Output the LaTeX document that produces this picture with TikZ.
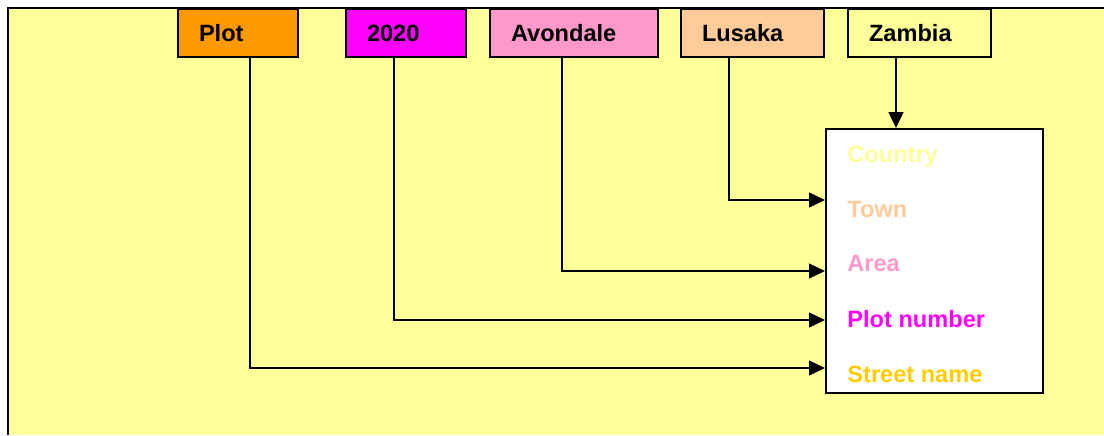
\documentclass[tikz,border=0pt]{standalone}
\usepackage{fontspec}
\setmainfont{Liberation Sans}
\usetikzlibrary{arrows.meta,positioning}
\definecolor{pale}{HTML}{FFFF99}
\definecolor{plotorange}{HTML}{FF9900}
\definecolor{plotpink}{HTML}{FF00FF}
\definecolor{areapink}{HTML}{FF99CC}
\definecolor{townpeach}{HTML}{FFCC99}
\definecolor{streetgold}{HTML}{FFCC00}

\begin{document}
\begin{tikzpicture}[x=0.5pt,y=-0.5pt,
  font=\fontsize{11.8}{14}\selectfont\bfseries,
  tag/.style={draw,line width=1pt,anchor=north west,minimum height=24pt,inner xsep=10.5pt,inner ysep=0pt,text width=#1,align=left},
  fld/.style={anchor=base west,inner sep=0pt},
  ar/.style={-{Triangle[length=8pt,width=7.4pt]},line width=1pt}]

\useasboundingbox (0,0) rectangle (1104,435);
\fill[pale] (8,8) rectangle (1104,435);
\draw[line width=1pt] (8,435) -- (8,8) -- (1104,8);

% values across the top
\node[tag=39pt,fill=plotorange] (plot) at (177,8) {Plot};
\node[tag=39pt,fill=plotpink] (year) at (345,8) {2020};
\node[tag=63pt,fill=areapink] (area) at (489,8) {Avondale};
\node[tag=50.5pt,fill=townpeach] (town) at (680,8) {Lusaka};
\node[tag=50.5pt,fill=pale] (country) at (847,8) {Zambia};

% address form
\node[draw,line width=1pt,fill=white,anchor=north west,minimum width=108.5pt,minimum height=132pt,inner sep=0pt] (addr) at (825,128) {};
\node[fld,text=pale] (lcountry) at (847,162) {Country};
\node[fld,text=townpeach] (ltown) at (847,217) {Town};
\node[fld,text=areapink] (larea) at (847,271) {Area};
\node[fld,text=plotpink] (lplotno) at (847,327) {Plot number};
\node[fld,text=streetgold] (lstreet) at (847,382) {Street name};

\coordinate (inTown) at (825,200);
\coordinate (inArea) at (825,271);
\coordinate (inPlotno) at (825,320);
\coordinate (inStreet) at (825,368);

\draw[ar] ([xshift=-11.75pt]country.south) -- ([xshift=-11.75pt]country.south |- addr.north);
\draw[ar] ([xshift=-12pt]town.south) |- (inTown);
\draw[ar] ([xshift=-6pt]area.south) |- (inArea);
\draw[ar] ([xshift=-6pt]year.south) |- (inPlotno);
\draw[ar] ([xshift=6pt]plot.south) |- (inStreet);
\end{tikzpicture}
\end{document}
